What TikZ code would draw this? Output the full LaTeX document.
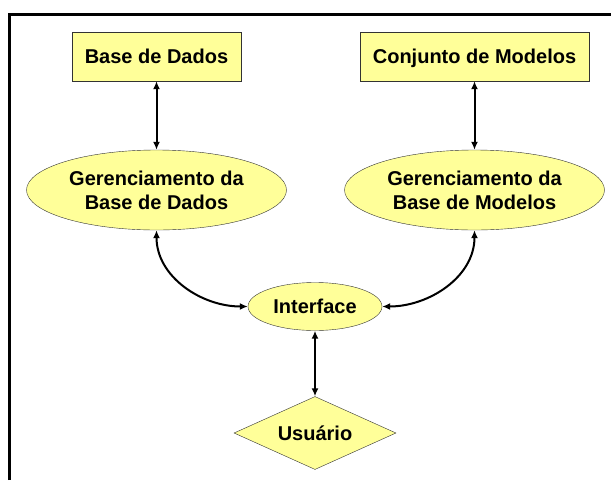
\documentclass[tikz,border=0pt]{standalone}
\usepackage{fontspec}
\setmainfont{Liberation Sans}
\usetikzlibrary{shapes.geometric,arrows.meta}
\definecolor{paleyellow}{RGB}{255,255,153}
\begin{document}
\begin{tikzpicture}
  [x=1pt,y=-1pt,
   every node/.style={draw=black!80,fill=paleyellow,inner sep=0pt,align=center,
     font=\fontsize{20}{24}\selectfont\bfseries},
   box/.style={rectangle,minimum height=49pt,text height=14.5pt,text depth=0pt},
   oval/.style={ellipse,minimum width=260pt,minimum height=80pt},
   rhomb/.style={diamond,shape aspect=2.2,minimum width=162pt,minimum height=73pt,
     text height=14.5pt,text depth=0pt},
   link/.style={line width=2pt,{Latex[length=8pt,width=7pt]}-{Latex[length=8pt,width=7pt]}}]
  \useasboundingbox (0,0) rectangle (611,480);
  \draw[line width=3pt] (9.5,480) -- (9.5,14.5) -- (611,14.5);

  \node[box,minimum width=169pt] (bd) at (156.5,56.5) {Base de Dados};
  \node[box,minimum width=229pt] (cm) at (474.5,56.5) {Conjunto de Modelos};
  \node[oval] (gbd) at (156.5,190) {Gerenciamento da\\Base de Dados};
  \node[oval] (gbm) at (474.5,190) {Gerenciamento da\\Base de Modelos};
  \node[ellipse,minimum width=134pt,minimum height=48pt,text height=14.5pt,text depth=0pt]
    (intf) at (315,306.5) {Interface};
  \node[rhomb] (user) at (315,433) {Usuário};

  \foreach \from/\to in {bd/gbd,cm/gbm,intf/user}
    \draw[link] (\from) -- (\to);
  \draw[link] (gbd.south) to[out=-90,in=180] (intf.west);
  \draw[link] (gbm.south) to[out=-90,in=0] (intf.east);
\end{tikzpicture}
\end{document}
